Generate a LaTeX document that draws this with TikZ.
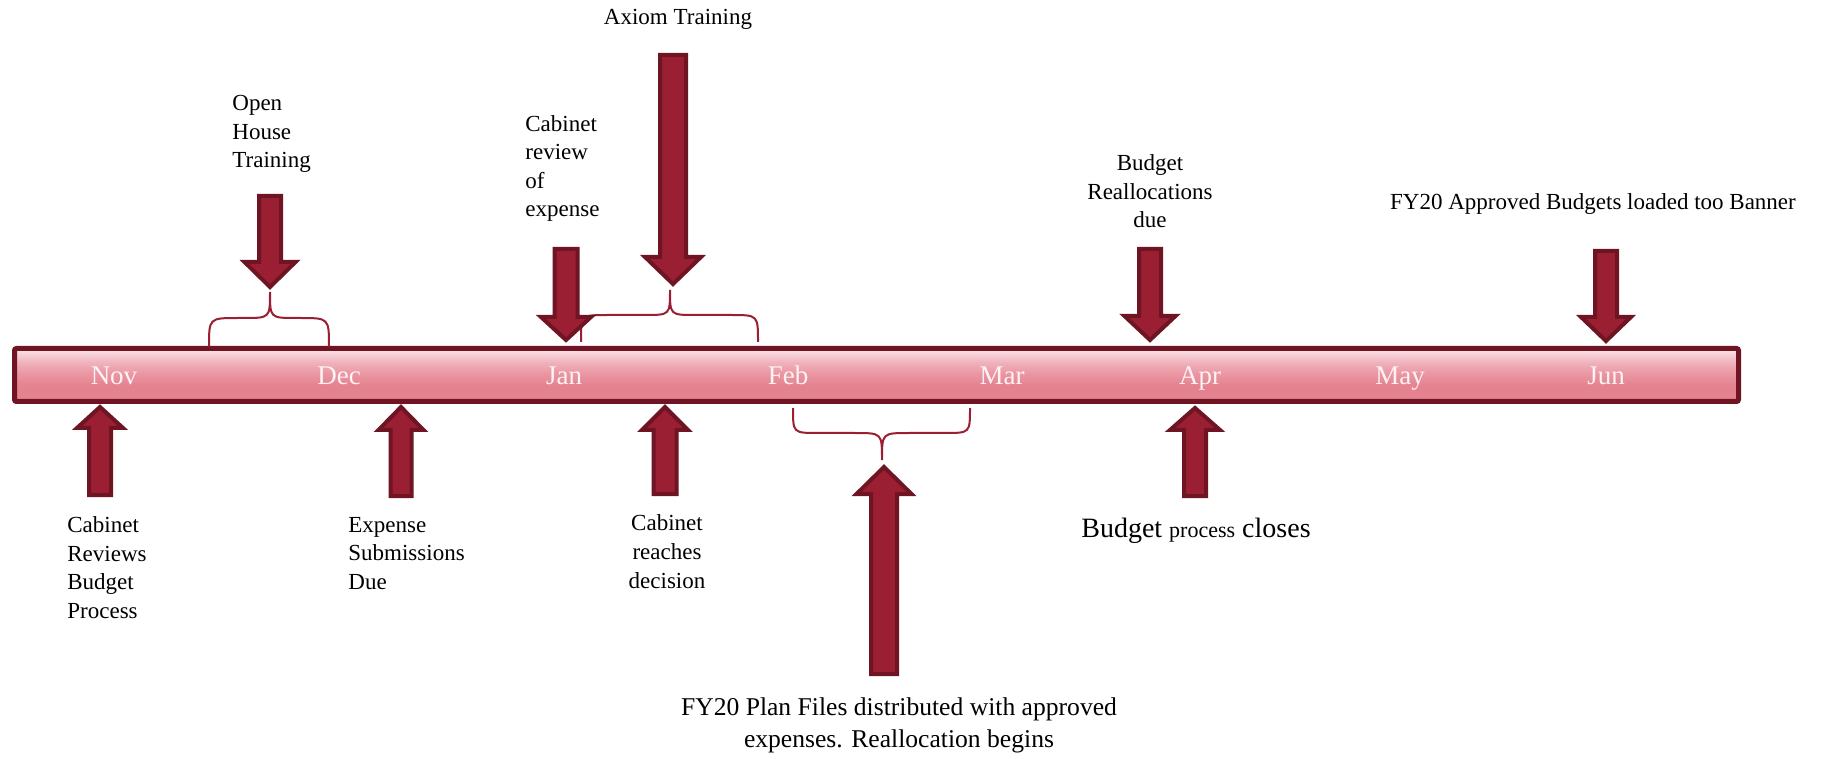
\documentclass[tikz,border=0pt]{standalone}
\usepackage{fontspec}
\setmainfont{Liberation Serif}
\definecolor{arrfill}{HTML}{9B1F33}
\definecolor{arrline}{HTML}{6E1423}
\definecolor{barT}{HTML}{FBE6EA}
\definecolor{barM}{HTML}{F0B2BC}
\definecolor{barN}{HTML}{EA98A4}
\definecolor{barB}{HTML}{E5828F}
\definecolor{barC}{HTML}{EEAAB3}
\definecolor{monthtxt}{HTML}{FDF2F4}
\pgfdeclareverticalshading{barshade}{100bp}{color(0bp)=(barC); color(25bp)=(barC); color(29bp)=(barB); color(40bp)=(barB); color(52bp)=(barN); color(62bp)=(barM); color(75bp)=(barT); color(100bp)=(barT)}
\newcommand\blkarrow[6]{% cx, yend, ytip, shaft half, head half, head base y
  \pgfmathsetmacro\adir{(#3>#2)?1:-1}%
  \draw[blockarrow] (#1-#4+2, #2+2*\adir) -- (#1+#4-2, #2+2*\adir) -- (#1+#4-2, #6)
    -- (#1+#5-2.5, #6) -- (#1, #3-3*\adir) -- (#1-#5+2.5, #6) -- (#1-#4+2, #6) -- cycle;
}
\newcommand\curlybrace[6]{% x1, x2, c, yend, ymid, ypoint
  \pgfmathsetmacro\rA{abs(#4-#5)}%
  \pgfmathsetmacro\rB{abs(#5-#6)}%
  \draw[bracestyle] (#1, #4) .. controls (#1, #5) .. (#1+\rA, #5) -- (#3-\rB, #5)
    .. controls (#3, #5) .. (#3, #6) .. controls (#3, #5) .. (#3+\rB, #5)
    -- (#2-\rA, #5) .. controls (#2, #5) .. (#2, #4);
}
\tikzset{
  blockarrow/.style={fill=arrfill, draw=arrline, line width=2pt, line join=miter},
  bracestyle/.style={draw=arrfill, line width=1pt},
  lbl/.style={font=\fontsize{11.5}{14.25}\selectfont, inner sep=0pt, align=left},
  month/.style={font=\fontsize{13.5}{16}\selectfont, text=monthtxt, inner sep=0pt, anchor=base},
  barbox/.style={draw=arrline, line width=2.5pt, shading=barshade, rounded corners=1pt}
}
\begin{document}
\begin{tikzpicture}[x=0.5pt, y=-0.5pt]
\path[fill=white] (0,0) rectangle (1822,759);
\useasboundingbox (0,0) rectangle (1822,759);

% timeline bar
\path[barbox] (14.5,348.5) rectangle (1738.5,401.5);
\coordinate (bar) at (876.5,375);

% months
\node[month] (nov) at (114,385) {Nov};
\node[month] (dec) at (339,385) {Dec};
\node[month] (jan) at (564,385) {Jan};
\node[month] (feb) at (788,385) {Feb};
\node[month] (mar) at (1002,385) {Mar};
\node[month] (apr) at (1200,385) {Apr};
\node[month] (may) at (1400,385) {May};
\node[month] (jun) at (1606,385) {Jun};

% braces
\curlybrace{209}{329}{270}{347}{318}{292}
\curlybrace{581}{758}{670}{342}{315}{290}
\curlybrace{793}{970}{882}{408}{433}{460}

% down arrows (above bar)
\blkarrow{270}{194}{290}{13}{28}{262}
\blkarrow{566}{247}{343}{13.5}{27.5}{317}
\blkarrow{673}{53}{287}{15}{30.5}{257}
\blkarrow{1150}{247}{343}{13}{28}{316}
\blkarrow{1606}{249}{344}{13}{27.5}{317}
% up arrows (below bar)
\blkarrow{100}{497}{404}{13}{25.5}{428}
\blkarrow{401}{498}{404}{12.5}{25}{430}
\blkarrow{665}{496}{404}{13.5}{25.5}{430}
\blkarrow{884}{676}{464}{15}{30}{494}
\blkarrow{1195}{498}{405}{13}{27.5}{430}

% labels above (anchor = baseline of last line)
\node[lbl, anchor=base west] (openhouse) at (232,168) {Open\\House\\Training};
\node[lbl, anchor=base west] (cabrev) at (525,217) {Cabinet\\review\\of\\expense};
\node[lbl, anchor=base] (axiom) at (678,25) {Axiom Training};
\node[lbl, align=center, anchor=base] (realloc) at (1150,228) {Budget\\Reallocations\\due};
\node[lbl, anchor=base] (fyappr) at (1593,210) {FY20 Approved Budgets loaded too Banner};
% labels below
\node[lbl, anchor=base west] (cabrevbud) at (67,618) {Cabinet\\Reviews\\Budget\\Process};
\node[lbl, anchor=base west] (expsub) at (348,589) {Expense\\Submissions\\Due};
\node[lbl, align=center, anchor=base] (cabdec) at (667,588) {Cabinet\\reaches\\decision};
\node[font=\fontsize{12.8}{16}\selectfont, align=center, anchor=base, inner sep=0pt] (plan) at (899,747) {FY20 Plan Files distributed with approved\\expenses. Reallocation begins};
\node[anchor=base, inner sep=0pt] (closes) at (1196,537) {\fontsize{14}{16}\selectfont Budget {\fontsize{11}{13}\selectfont process} closes};
\end{tikzpicture}
\end{document}
